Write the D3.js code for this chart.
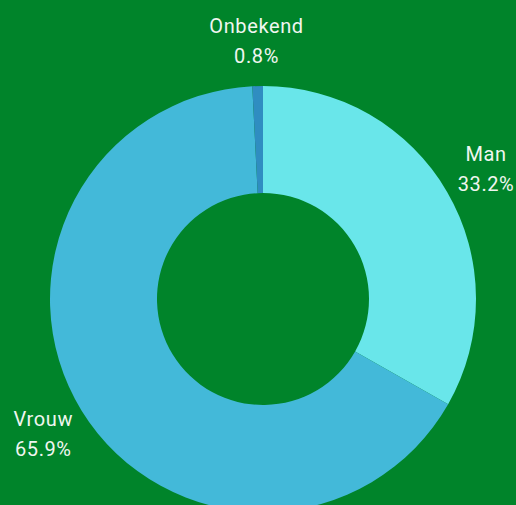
<!DOCTYPE html>
<html>
<head>
<meta charset="utf-8">
<script src="https://cdn.jsdelivr.net/npm/d3@7"></script>
<style>
  html, body { margin: 0; padding: 0; background: #00842a; overflow: hidden; }
</style>
</head>
<body>
<div id="chart"></div>
<script>
const categories = ['Man', 'Vrouw', 'Onbekend'];
const values = [33.2, 65.9, 0.8];
const colors = ['#69e6ea', '#43b9d9', '#2f8dc1'];

const width = 516, height = 505;
const cx = 263, cy = 299;
const outerR = 213, innerR = 106, labelR = 258;

const svg = d3.select('#chart').append('svg')
    .attr('width', width)
    .attr('height', height);

svg.append('rect')
    .attr('width', width)
    .attr('height', height)
    .attr('fill', '#00842a');

const g = svg.append('g')
    .attr('transform', `translate(${cx},${cy})`);

const data = categories.map((c, i) => ({ name: c, value: values[i], color: colors[i] }));

const pie = d3.pie().sort(null).value(d => d.value);
const arc = d3.arc().innerRadius(innerR).outerRadius(outerR);
const labelArc = d3.arc().innerRadius(labelR).outerRadius(labelR);

const arcs = pie(data);

g.selectAll('path')
    .data(arcs)
    .enter().append('path')
    .attr('d', arc)
    .attr('fill', d => d.data.color);

// Labels
const labels = g.selectAll('g.label')
    .data(arcs)
    .enter().append('g')
    .attr('class', 'label')
    .attr('transform', d => `translate(${labelArc.centroid(d)})`);

labels.append('text')
    .attr('text-anchor', 'middle')
    .attr('y', -8)
    .attr('fill', '#f0f6f0')
    .style('font-family', 'Roboto, sans-serif')
    .style('letter-spacing', '0.6px')
    .style('font-size', '20px')
    .text(d => d.data.name);

labels.append('text')
    .attr('text-anchor', 'middle')
    .attr('y', 22)
    .attr('fill', '#f0f6f0')
    .style('font-family', 'Roboto, sans-serif')
    .style('letter-spacing', '0.6px')
    .style('font-size', '20px')
    .text(d => d.data.value.toFixed(1) + '%');
</script>
</body>
</html>
